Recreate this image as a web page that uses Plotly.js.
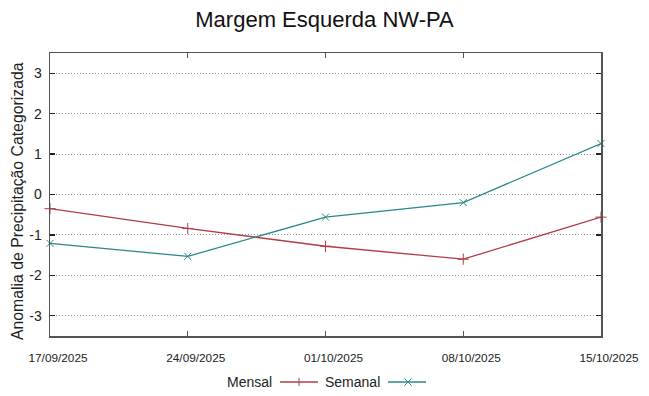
<!DOCTYPE html>
<html>
<head>
<meta charset="utf-8">
<script src="https://cdn.plot.ly/plotly-3.0.1.min.js"></script>
<style>html,body{margin:0;padding:0;background:#fff;}#chart{width:649px;height:396px;}</style>
</head>
<body>
<div id="chart"></div>
<script>
const dates = ["17/09/2025", "24/09/2025", "01/10/2025", "08/10/2025", "15/10/2025"];
const mensal = [-0.35, -0.84, -1.28, -1.60, -0.56];
const semanal = [-1.21, -1.53, -0.56, -0.20, 1.26];
const yTicks = [-3, -2, -1, 0, 1, 2, 3];

const redCol = "#b23c44";
const tealCol = "#2a8888";

const W = 649, H = 396, mL = 50, mR = 48, mT = 53, mB = 60;
const pw = W - mL - mR, ph = H - mT - mB;
const px = x => (x - mL) / pw;
const py = y => (H - mB - y) / ph;

const traces = [
  {x: dates, y: mensal, name: "Mensal", type: "scatter", mode: "lines+markers",
   line: {color: redCol, width: 1.3},
   marker: {symbol: "cross-thin-open", size: 8, color: redCol, line: {width: 1, color: redCol}},
   cliponaxis: false, showlegend: false},
  {x: dates, y: semanal, name: "Semanal", type: "scatter", mode: "lines+markers",
   line: {color: tealCol, width: 1.3},
   marker: {symbol: "x-thin-open", size: 7, color: tealCol, line: {width: 1, color: tealCol}},
   cliponaxis: false, showlegend: false}
];

const legY = 382;
const shapes = [
  {type: "line", xref: "paper", yref: "paper", x0: px(280), x1: px(318), y0: py(legY), y1: py(legY), line: {color: redCol, width: 1.3}},
  {type: "line", xref: "paper", yref: "paper", x0: px(299), x1: px(299), y0: py(legY - 4), y1: py(legY + 4), line: {color: redCol, width: 1}},
  {type: "line", xref: "paper", yref: "paper", x0: px(388), x1: px(426), y0: py(legY), y1: py(legY), line: {color: tealCol, width: 1.3}},
  {type: "line", xref: "paper", yref: "paper", x0: px(404.5), x1: px(411.5), y0: py(legY - 3.5), y1: py(legY + 3.5), line: {color: tealCol, width: 1}},
  {type: "line", xref: "paper", yref: "paper", x0: px(404.5), x1: px(411.5), y0: py(legY + 3.5), y1: py(legY - 3.5), line: {color: tealCol, width: 1}}
];

const annotations = [
  {text: "Mensal", xref: "paper", yref: "paper", x: px(274), y: py(legY), xanchor: "right", yanchor: "middle", showarrow: false,
   font: {family: "Liberation Sans, Arial, sans-serif", size: 14, color: "#222"}},
  {text: "Semanal", xref: "paper", yref: "paper", x: px(382), y: py(legY), xanchor: "right", yanchor: "middle", showarrow: false,
   font: {family: "Liberation Sans, Arial, sans-serif", size: 14, color: "#222"}},
  {text: "Anomalia de Precipitação Categorizada", xref: "paper", yref: "paper", x: px(18), y: py(201),
   xanchor: "center", yanchor: "middle", textangle: -90, showarrow: false,
   font: {family: "Liberation Sans, Arial, sans-serif", size: 15.8, color: "#222"}}
];

const layout = {
  width: W, height: H,
  margin: {l: mL, r: mR, t: mT, b: mB},
  paper_bgcolor: "#fff", plot_bgcolor: "#fff",
  font: {family: "Liberation Sans, Arial, sans-serif", color: "#222"},
  title: {text: "Margem Esquerda NW-PA", x: 0.5, xanchor: "center", y: 0.952, yanchor: "middle",
          font: {size: 22, color: "#111", family: "Liberation Sans, Arial, sans-serif"}},
  showlegend: false,
  xaxis: {type: "category", categoryorder: "array", categoryarray: dates, range: [0, 4],
          showgrid: false, zeroline: false, showline: true, linecolor: "#555", linewidth: 1.5, mirror: "ticks",
          ticks: "inside", ticklen: 5, tickcolor: "#555", tickwidth: 1,
          tickfont: {size: 11.8, color: "#222"}, ticklabelstandoff: 10, ticklabelshift: 8},
  yaxis: {range: [-3.5, 3.5], tickvals: yTicks, ticktext: yTicks.map(String),
          showgrid: true, gridcolor: "#999", griddash: "1px,2px", gridwidth: 1, zeroline: false,
          showline: true, linecolor: "#555", linewidth: 1.5, mirror: "ticks",
          ticks: "inside", ticklen: 5, tickcolor: "#222", tickwidth: 1.2,
          tickfont: {size: 14, color: "#222"}, ticklabelstandoff: 4},
  shapes: shapes,
  annotations: annotations
};

Plotly.newPlot("chart", traces, layout, {staticPlot: true, displayModeBar: false});
</script>
</body>
</html>
